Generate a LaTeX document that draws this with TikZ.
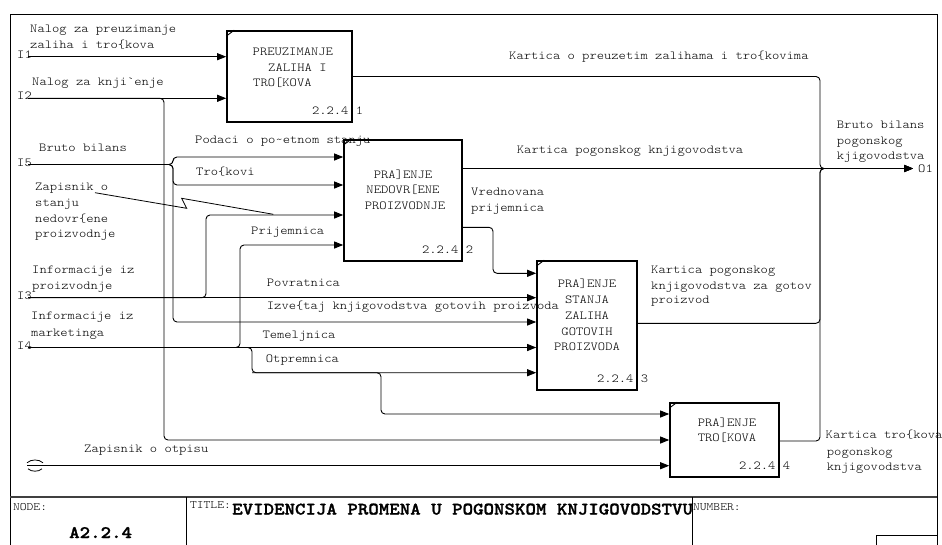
\documentclass[tikz,border=0pt]{standalone}
\usepackage{fontspec}
\newfontfamily\cour{lmmonolt10}[Extension=.otf, UprightFont=*-regular, BoldFont=*-bold, BoldFeatures={FakeBold=1.5}, FakeStretch=1.14]
\usetikzlibrary{arrows.meta,calc}
\begin{document}
\begin{tikzpicture}[x=1pt,y=-1pt,
  conn/.style={line width=0.9pt, rounded corners=4pt},
  arr/.style={conn, -{Triangle[length=9pt,width=7pt]}},
  box/.style={draw, line width=1.6pt, inner sep=0pt},
  cornertick/.style={line width=0.9pt},
  frame/.style={line width=0.8pt},
  lbl/.style={font=\cour\fontsize{12.2}{14}\selectfont, inner sep=0pt, anchor=base west},
  ctr/.style={lbl, anchor=base},
  small/.style={font=\cour\fontsize{11.3}{12}\selectfont, inner sep=0pt, anchor=base west},
  big/.style={font=\cour\bfseries\fontsize{17.5}{20}\selectfont, inner sep=0pt, anchor=base west}]
\useasboundingbox (0,0) rectangle (942,544);
\clip (0,0) rectangle (942,544);

% drawing frame
\draw[frame] (10,560) -- (10,14) -- (937,14) -- (937,560);
\draw[line width=1.1pt, black!75] (10,497) -- (937,497);
\draw[frame] (186,497) -- (186,560);
\draw[frame] (692,497) -- (692,560);
\draw[frame] (876,560) |- (937,535);
\node[small] (nodelbl) at (13,510) {NODE:};
\node[big] (nodeid) at (69,538) {A2.2.4};
\node[small] (titlelbl) at (190,508.5) {TITLE:};
\node[big] (title) at (232,514.5) {EVIDENCIJA PROMENA U POGONSKOM KNJIGOVODSTVU};
\node[small] (numlbl) at (693,510) {NUMBER:};

% activity boxes
\node[box, minimum width=125pt, minimum height=91pt] (b1) at (289.5,76.5) {};
\node[box, minimum width=118pt, minimum height=121pt] (b2) at (403,200.5) {};
\node[box, minimum width=100pt, minimum height=129pt] (b3) at (587,325.5) {};
\node[box, minimum width=109pt, minimum height=74pt] (b4) at (724.5,440) {};
\foreach \b in {b1,b2,b3,b4}{
  \draw[cornertick] ([yshift=-6pt]\b.north west) -- ([xshift=8pt]\b.north west);
}
\node[lbl] (b1a) at (252.5,55.5) {PREUZIMANJE};
\node[lbl] (b1b) at (268,71.5) {ZALIHA I};
\node[lbl] (b1c) at (253,86.5) {TRO[KOVA};
\node[ctr] (b2a) at (403,178) {PRA]ENJE};
\node[ctr] (b2b) at (403,193.5) {NEDOVR[ENE};
\node[ctr] (b2c) at (405,209) {PROIZVODNJE};
\node[ctr] (b3a) at (587,287.5) {PRA]ENJE};
\node[ctr] (b3b) at (587,303.5) {STANJA};
\node[ctr] (b3c) at (587,319.5) {ZALIHA};
\node[ctr] (b3d) at (587,335.5) {GOTOVIH};
\node[ctr] (b3e) at (587,350.5) {PROIZVODA};
\node[ctr] (b4a) at (727,426.5) {PRA]ENJE};
\node[ctr] (b4b) at (727,441.5) {TRO[KOVA};
\node[lbl] (b1n) at ([xshift=-41pt,yshift=8pt]b1.south east) {2.2.4.1};
\node[lbl] (b2n) at ([xshift=-41pt,yshift=8pt]b2.south east) {2.2.4.2};
\node[lbl] (b3n) at ([xshift=-41pt,yshift=8pt]b3.south east) {2.2.4.3};
\node[lbl] (b4n) at ([xshift=-41pt,yshift=8pt]b4.south east) {2.2.4.4};

% boundary ends and routing points
\coordinate (I1) at (28,56.7);
\coordinate (I2) at (28,98.3);
\coordinate (I5) at (28,164.5);
\coordinate (I3) at (28,297.7);
\coordinate (I4) at (28,347.5);
\coordinate (T1) at (27,465.7);
\coordinate (O1) at (913,168.5);
\coordinate (m) at (820,168.5);
\coordinate (c2) at (164,440);
\coordinate (c5a) at (173,157);
\coordinate (c5b) at (173,185);
\coordinate (c5c) at (173,322);
\coordinate (c3) at (206,215);
\coordinate (c4a) at (240,245);
\coordinate (c4b) at (252,372.7);
\coordinate (c4c) at (381,414);
\coordinate (v1) at (493,227.3);
\coordinate (v2) at (493,273.3);
\coordinate (c3o) at (820,323.3);
\coordinate (c4o) at (820,441);

% inputs
\draw[arr] (I1) -- (b1.west |- I1);
\draw[arr] (I2) -- (b1.west |- I2);
\draw[arr] (I2) -| (c2) -- (b4.west |- c2);
\draw[arr] (I5) -| (c5a) -- (b2.west |- c5a);
\draw[arr] (I5) -| (c5b) -- (b2.west |- c5b);
\draw[arr] (I5) -| (c5c) -- (b3.west |- c5c);
\draw[arr] (I3) -- (b3.west |- I3);
\draw[arr] (I3) -| (c3) -- (b2.west |- c3);
\draw[arr] (I4) -- (b3.west |- I4);
\draw[arr] (I4) -| (c4a) -- (b2.west |- c4a);
\draw[arr] (I4) -| (c4b) -- (b3.west |- c4b);
\draw[arr] (c4b) -| (c4c) -- (b4.west |- c4c);
\draw[arr] (T1) -- (b4.west |- T1);
% tunnel mark at the free end
\draw[line width=0.8pt] (27,462.8) .. controls (31,459) and (39,459) .. (43,462.8);
\draw[line width=0.8pt] (28,468.8) .. controls (31.5,472) and (38.5,472) .. (42,468.8);

% box to box and outputs
\draw[arr] (b2.east |- v1) -- (v1) -- (v2) -- (b3.west |- v2);
\draw[arr] (b1.east) -| (m) -- (O1);
\draw[arr] (b2.east |- O1) -- (O1);
\draw[arr] (b3.east |- c3o) -- (c3o) -- (m) -- (O1);
\draw[arr] (b4.east |- c4o) -- (c4o) -- (m) -- (O1);

% squiggle leader
\draw[line width=0.8pt] (95,192.7) -- (186.7,208.3) -- (181.7,198.3) -- (273.3,214.3);

% arrow labels
\node[lbl] (t1) at (17,58.5) {I1};
\node[lbl] (t2) at (17,99.5) {I2};
\node[lbl] (t5) at (17,166.5) {I5};
\node[lbl] (t3) at (17,299.5) {I3};
\node[lbl] (t4) at (17,349.5) {I4};
\node[lbl] (to1) at (918,172) {O1};
\node[lbl] (l1a) at (30,32.5) {Nalog za preuzimanje};
\node[lbl] (l1b) at (30,48.5) {zaliha i tro\symbol{123}kova};
\node[lbl] (l2) at (32,85.5) {Nalog za knji\symbol{96}enje};
\node[lbl] (l5) at (39,151) {Bruto bilans};
\node[lbl] (l5a) at (195,143) {Podaci o po\symbol{126}etnom stanju};
\node[lbl] (l5b) at (196,175.5) {Tro\symbol{123}kovi};
\node[lbl] (lz1) at (35,190) {Zapisnik o};
\node[lbl] (lz2) at (35,206) {stanju};
\node[lbl] (lz3) at (35,222) {nedovr\symbol{123}ene};
\node[lbl] (lz4) at (35,237.5) {proizvodnje};
\node[lbl] (l3a) at (32,273) {Informacije iz};
\node[lbl] (l3b) at (32,289.5) {proizvodnje};
\node[lbl] (l4a) at (31,319.5) {Informacije iz};
\node[lbl] (l4b) at (31,336) {marketinga};
\node[lbl] (lpr) at (251,234) {Prijemnica};
\node[lbl] (lpo) at (266.7,286) {Povratnica};
\node[lbl] (liz) at (266.7,309) {Izve\symbol{123}taj knjigovodstva gotovih proizvoda};
\node[lbl] (lte) at (262.3,338) {Temeljnica};
\node[lbl] (lot) at (265.7,362) {Otpremnica};
\node[lbl] (lv1) at (471,195.5) {Vrednovana};
\node[lbl] (lv2) at (471,211) {prijemnica};
\node[lbl] (lk1) at (509,59) {Kartica o preuzetim zalihama i tro\symbol{123}kovima};
\node[lbl] (lk2) at (516.7,153) {Kartica pogonskog knjigovodstva};
\node[lbl] (lo1) at (836.7,128) {Bruto bilans};
\node[lbl] (lo2) at (836.7,144) {pogonskog};
\node[lbl] (lo3) at (836.7,159.5) {kjigovodstva};
\node[lbl] (lk3a) at (651,273) {Kartica pogonskog};
\node[lbl] (lk3b) at (651,289) {knjigovodstva za gotov};
\node[lbl] (lk3c) at (651,303.5) {proizvod};
\node[lbl] (lk4a) at (825.5,438) {Kartica tro\symbol{123}kova};
\node[lbl] (lk4b) at (826.7,455) {pogonskog};
\node[lbl] (lk4c) at (826.7,470) {knjigovodstva};
\node[lbl] (lzo) at (84,452) {Zapisnik o otpisu};
\end{tikzpicture}
\end{document}
